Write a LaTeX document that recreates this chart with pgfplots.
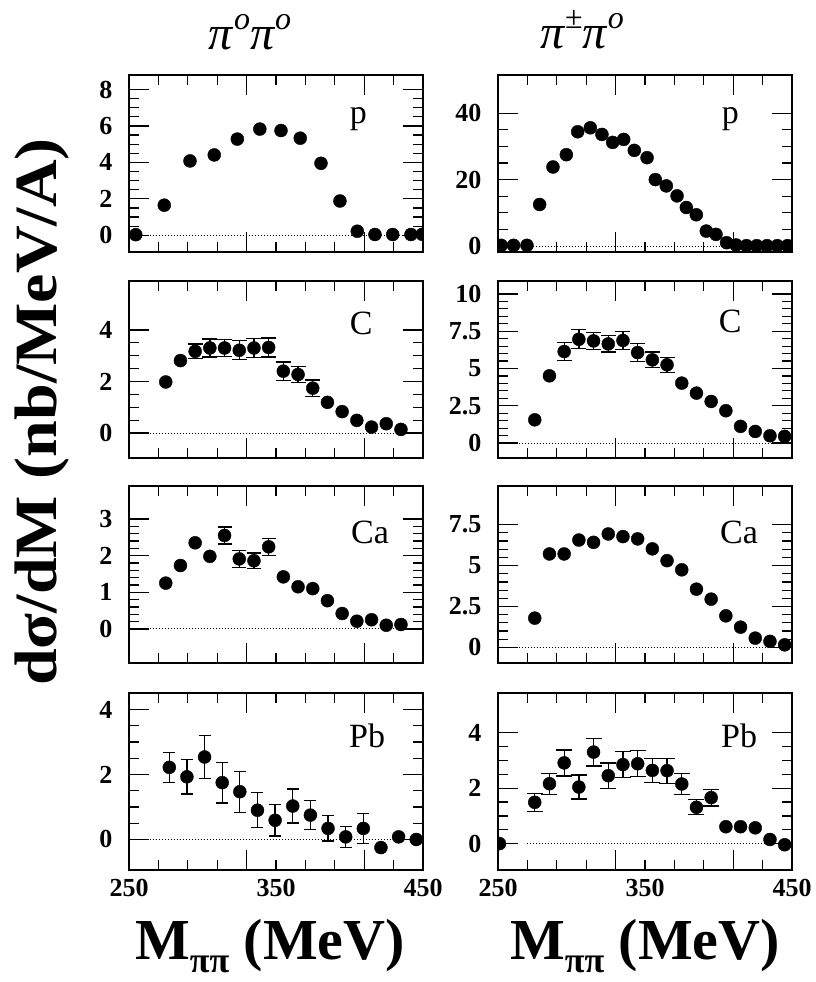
\documentclass[border=0pt]{standalone}
\usepackage{fontspec}
\setmainfont{Liberation Serif}
\usepackage{pgfplots}
\pgfplotsset{compat=1.18}
\newcommand{\fs}[1]{\fontsize{#1}{#1}\selectfont}
\tikzset{plab/.style={font=\fs{34}}}
\pgfplotsset{
  panel/.style={
    scale only axis, width=294pt, height=177pt,
    xmin=250, xmax=450,
    axis line style={line width=1.5pt},
    every tick/.style={line width=1.2pt, black},
    major tick length=20pt, minor tick length=10pt,
    tick align=inside,
    clip marker paths=true,
    xtick={330,410}, xticklabels={},
    minor xtick={270,290,310,350,370,390,430},
    /pgf/number format/assume math mode=true,
    yticklabel style={font=\fs{26}\bfseries, xshift=-13pt},
    xticklabel style={font=\fs{26}\bfseries, yshift=-6pt},
  },
  bottom/.style={extra x ticks={250,350,450}, extra x tick labels={250,350,450}, extra x tick style={major tick length=0pt}},
  pts/.style={only marks, mark=*, mark size=6.5pt, black, mark options={fill=black, draw=black}},
  errs/.style={pts, error bars/.cd, y dir=both, y explicit, error bar style={line width=1.3pt, black}, error mark options={rotate=90, line width=1.3pt, mark size=#1, black}},
  errs/.default=6pt,
  zline/.style={dotted, line width=1pt, black, forget plot},
}
\begin{document}
\begin{tikzpicture}
\useasboundingbox (0,0) rectangle (816pt,982pt);
% ---------- row 1: p
\begin{axis}[panel, at={(129pt,907pt)}, anchor=north west,
  ymin=-0.92, ymax=8.8, ytick={0,2,4,6,8}, minor y tick num=3]
\addplot[zline] coordinates {(264,0) (450,0)};
\addplot[pts] coordinates {(254.6,0.03) (274.0,1.65) (291.5,4.08) (308.0,4.41) (323.7,5.28) (339.0,5.83) (353.4,5.75) (366.5,5.33) (380.6,3.95) (393.5,1.88) (405.3,0.22) (417.3,0.04) (429.4,0.04) (441.8,0.04) (449.5,0.05)};
\node[plab] at (rel axis cs:0.78,0.75) {p};
\end{axis}
\begin{axis}[panel, at={(498pt,907pt)}, anchor=north west,
  ymin=-1.8, ymax=51.5, ytick={0,20,40}, minor y tick num=3]
\addplot[zline] coordinates {(274,0) (450,0)};
\addplot[pts] coordinates {(252.2,0.2) (260.6,0.2) (269.7,0.2) (278.3,12.5) (287.4,23.8) (296.5,27.5) (304.2,34.4) (312.8,35.6) (320.7,33.6) (328.0,31.2) (335.5,32.1) (342.7,28.8) (351.4,26.6) (357.0,20.0) (364.5,18.1) (371.8,15.1) (378.1,11.6) (384.9,9.4) (391.7,4.5) (398.3,3.5) (405.5,1.0) (412,0.3) (419,0.1) (426,0.1) (433,0.1) (440,0.1) (447,0.1)};
\node[plab] at (rel axis cs:0.79,0.75) {p};
\end{axis}
% ---------- row 2: C
\begin{axis}[panel, at={(129pt,701pt)}, anchor=north west,
  ymin=-0.97, ymax=5.9, ytick={0,2,4}, minor y tick num=3]
\addplot[zline] coordinates {(264,0) (450,0)};
\addplot[pts] coordinates {(275,1.98) (285,2.81) (385,1.19) (395,0.83) (405,0.49) (415,0.23) (425,0.36) (435,0.14)};
\addplot[errs=7.5pt] coordinates {(295,3.17) +- (0,0.28) (305,3.30) +- (0,0.35) (315,3.30) +- (0,0.33) (325,3.21) +- (0,0.37) (335,3.30) +- (0,0.37) (345,3.32) +- (0,0.37) (355,2.40) +- (0,0.36) (365,2.27) +- (0,0.31) (375,1.74) +- (0,0.32)};
\node[plab] at (rel axis cs:0.79,0.76) {C};
\end{axis}
\begin{axis}[panel, at={(498pt,701pt)}, anchor=north west,
  ymin=-1.0, ymax=10.87, ytick={0,2.5,5,7.5,10}, minor y tick num=4]
\addplot[zline] coordinates {(264,0) (450,0)};
\addplot[pts] coordinates {(275,1.56) (285,4.51) (375,4.02) (385,3.35) (395,2.79) (405,2.17) (415,1.12) (425,0.78) (435,0.49) (445,0.45)};
\addplot[errs=7.5pt] coordinates {(295,6.14) +- (0,0.6) (305,6.96) +- (0,0.64) (315,6.85) +- (0,0.56) (325,6.65) +- (0,0.55) (335,6.88) +- (0,0.6) (345,6.07) +- (0,0.6) (355,5.58) +- (0,0.52) (365,5.25) +- (0,0.5)};
\node[plab] at (rel axis cs:0.79,0.77) {C};
\end{axis}
% ---------- row 3: Ca
\begin{axis}[panel, at={(129pt,496pt)}, anchor=north west,
  ymin=-0.93, ymax=3.9, ytick={0,1,2,3}, minor y tick num=4]
\addplot[zline] coordinates {(264,0) (450,0)};
\addplot[pts] coordinates {(275,1.25) (285,1.73) (295,2.35) (305,1.98) (355,1.42) (365,1.15) (375,1.10) (385,0.77) (395,0.42) (405,0.21) (415,0.25) (425,0.10) (435,0.12)};
\addplot[errs=7pt] coordinates {(315,2.55) +- (0,0.23) (325,1.91) +- (0,0.23) (335,1.86) +- (0,0.21) (345,2.24) +- (0,0.23)};
\node[plab] at (rel axis cs:0.82,0.74) {Ca};
\end{axis}
\begin{axis}[panel, at={(498pt,496pt)}, anchor=north west,
  ymin=-0.95, ymax=9.86, ytick={0,2.5,5,7.5}, minor y tick num=4]
\addplot[zline] coordinates {(264,0) (450,0)};
\addplot[pts] coordinates {(275,1.79) (285,5.71) (295,5.71) (305,6.56) (315,6.42) (325,6.93) (335,6.77) (345,6.63) (355,6.02) (365,5.30) (375,4.74) (385,3.56) (395,2.95) (405,1.93) (415,1.24) (425,0.57) (435,0.37) (445,0.16)};
\node[plab] at (rel axis cs:0.82,0.74) {Ca};
\end{axis}
% ---------- row 4: Pb
\begin{axis}[panel, bottom, at={(129pt,289pt)}, anchor=north west,
  ymin=-0.94, ymax=4.51, ytick={0,2,4}, minor y tick num=3]
\addplot[zline] coordinates {(264,0) (450,0)};
\addplot[pts] coordinates {(421.4,-0.25) (433.4,0.08) (445.4,0.0)};
\addplot[errs=6pt] coordinates {(277.4,2.22) +- (0,0.46) (289.4,1.93) +- (0,0.53) (301.4,2.54) +- (0,0.66) (313.4,1.75) +- (0,0.63) (325.4,1.47) +- (0,0.63) (337.4,0.90) +- (0,0.54) (349.4,0.59) +- (0,0.48) (361.4,1.03) +- (0,0.52) (373.4,0.75) +- (0,0.45) (385.4,0.34) +- (0,0.39) (397.4,0.08) +- (0,0.32) (409.4,0.34) +- (0,0.46)};
\node[plab] at (rel axis cs:0.81,0.76) {Pb};
\end{axis}
\begin{axis}[panel, bottom, at={(498pt,289pt)}, anchor=north west,
  ymin=-0.95, ymax=5.43, ytick={0,2,4}, minor y tick num=3]
\addplot[zline] coordinates {(270,0) (450,0)};
\addplot[pts] coordinates {(251,0) (405,0.61) (415,0.61) (425,0.57) (435,0.15) (445,-0.04)};
\addplot[errs=8pt] coordinates {(275,1.49) +- (0,0.33) (285,2.16) +- (0,0.38) (295,2.91) +- (0,0.47) (305,2.04) +- (0,0.43) (315,3.30) +- (0,0.5) (325,2.45) +- (0,0.46) (335,2.85) +- (0,0.47) (345,2.88) +- (0,0.47) (355,2.64) +- (0,0.44) (365,2.63) +- (0,0.45) (375,2.15) +- (0,0.38) (385,1.31) +- (0,0.27) (395,1.66) +- (0,0.3)};
\node[plab] at (rel axis cs:0.82,0.755) {Pb};
\end{axis}
% ---------- titles and labels
\node[font=\fs{48}] at (250pt,950pt) {\textit{π}\raisebox{0.42em}{\fs{32}\textit{o}}\textit{π}\raisebox{0.42em}{\fs{32}\textit{o}}};
\node[font=\fs{48}] at (582pt,952pt) {\textit{π}\raisebox{0.42em}{\fs{32}±}\textit{π}\raisebox{0.42em}{\fs{32}\textit{o}}};
\node[font=\fs{60}\bfseries, rotate=90] at (42pt,570pt) {\scalebox{1.1}[1]{dσ/dM (nb/MeV/A)}};
\node[font=\fs{58}\bfseries] at (270pt,36pt) {M\raisebox{-0.22em}{\fs{36}ππ} (MeV)};
\node[font=\fs{58}\bfseries] at (645pt,36pt) {M\raisebox{-0.22em}{\fs{36}ππ} (MeV)};
\end{tikzpicture}
\end{document}
